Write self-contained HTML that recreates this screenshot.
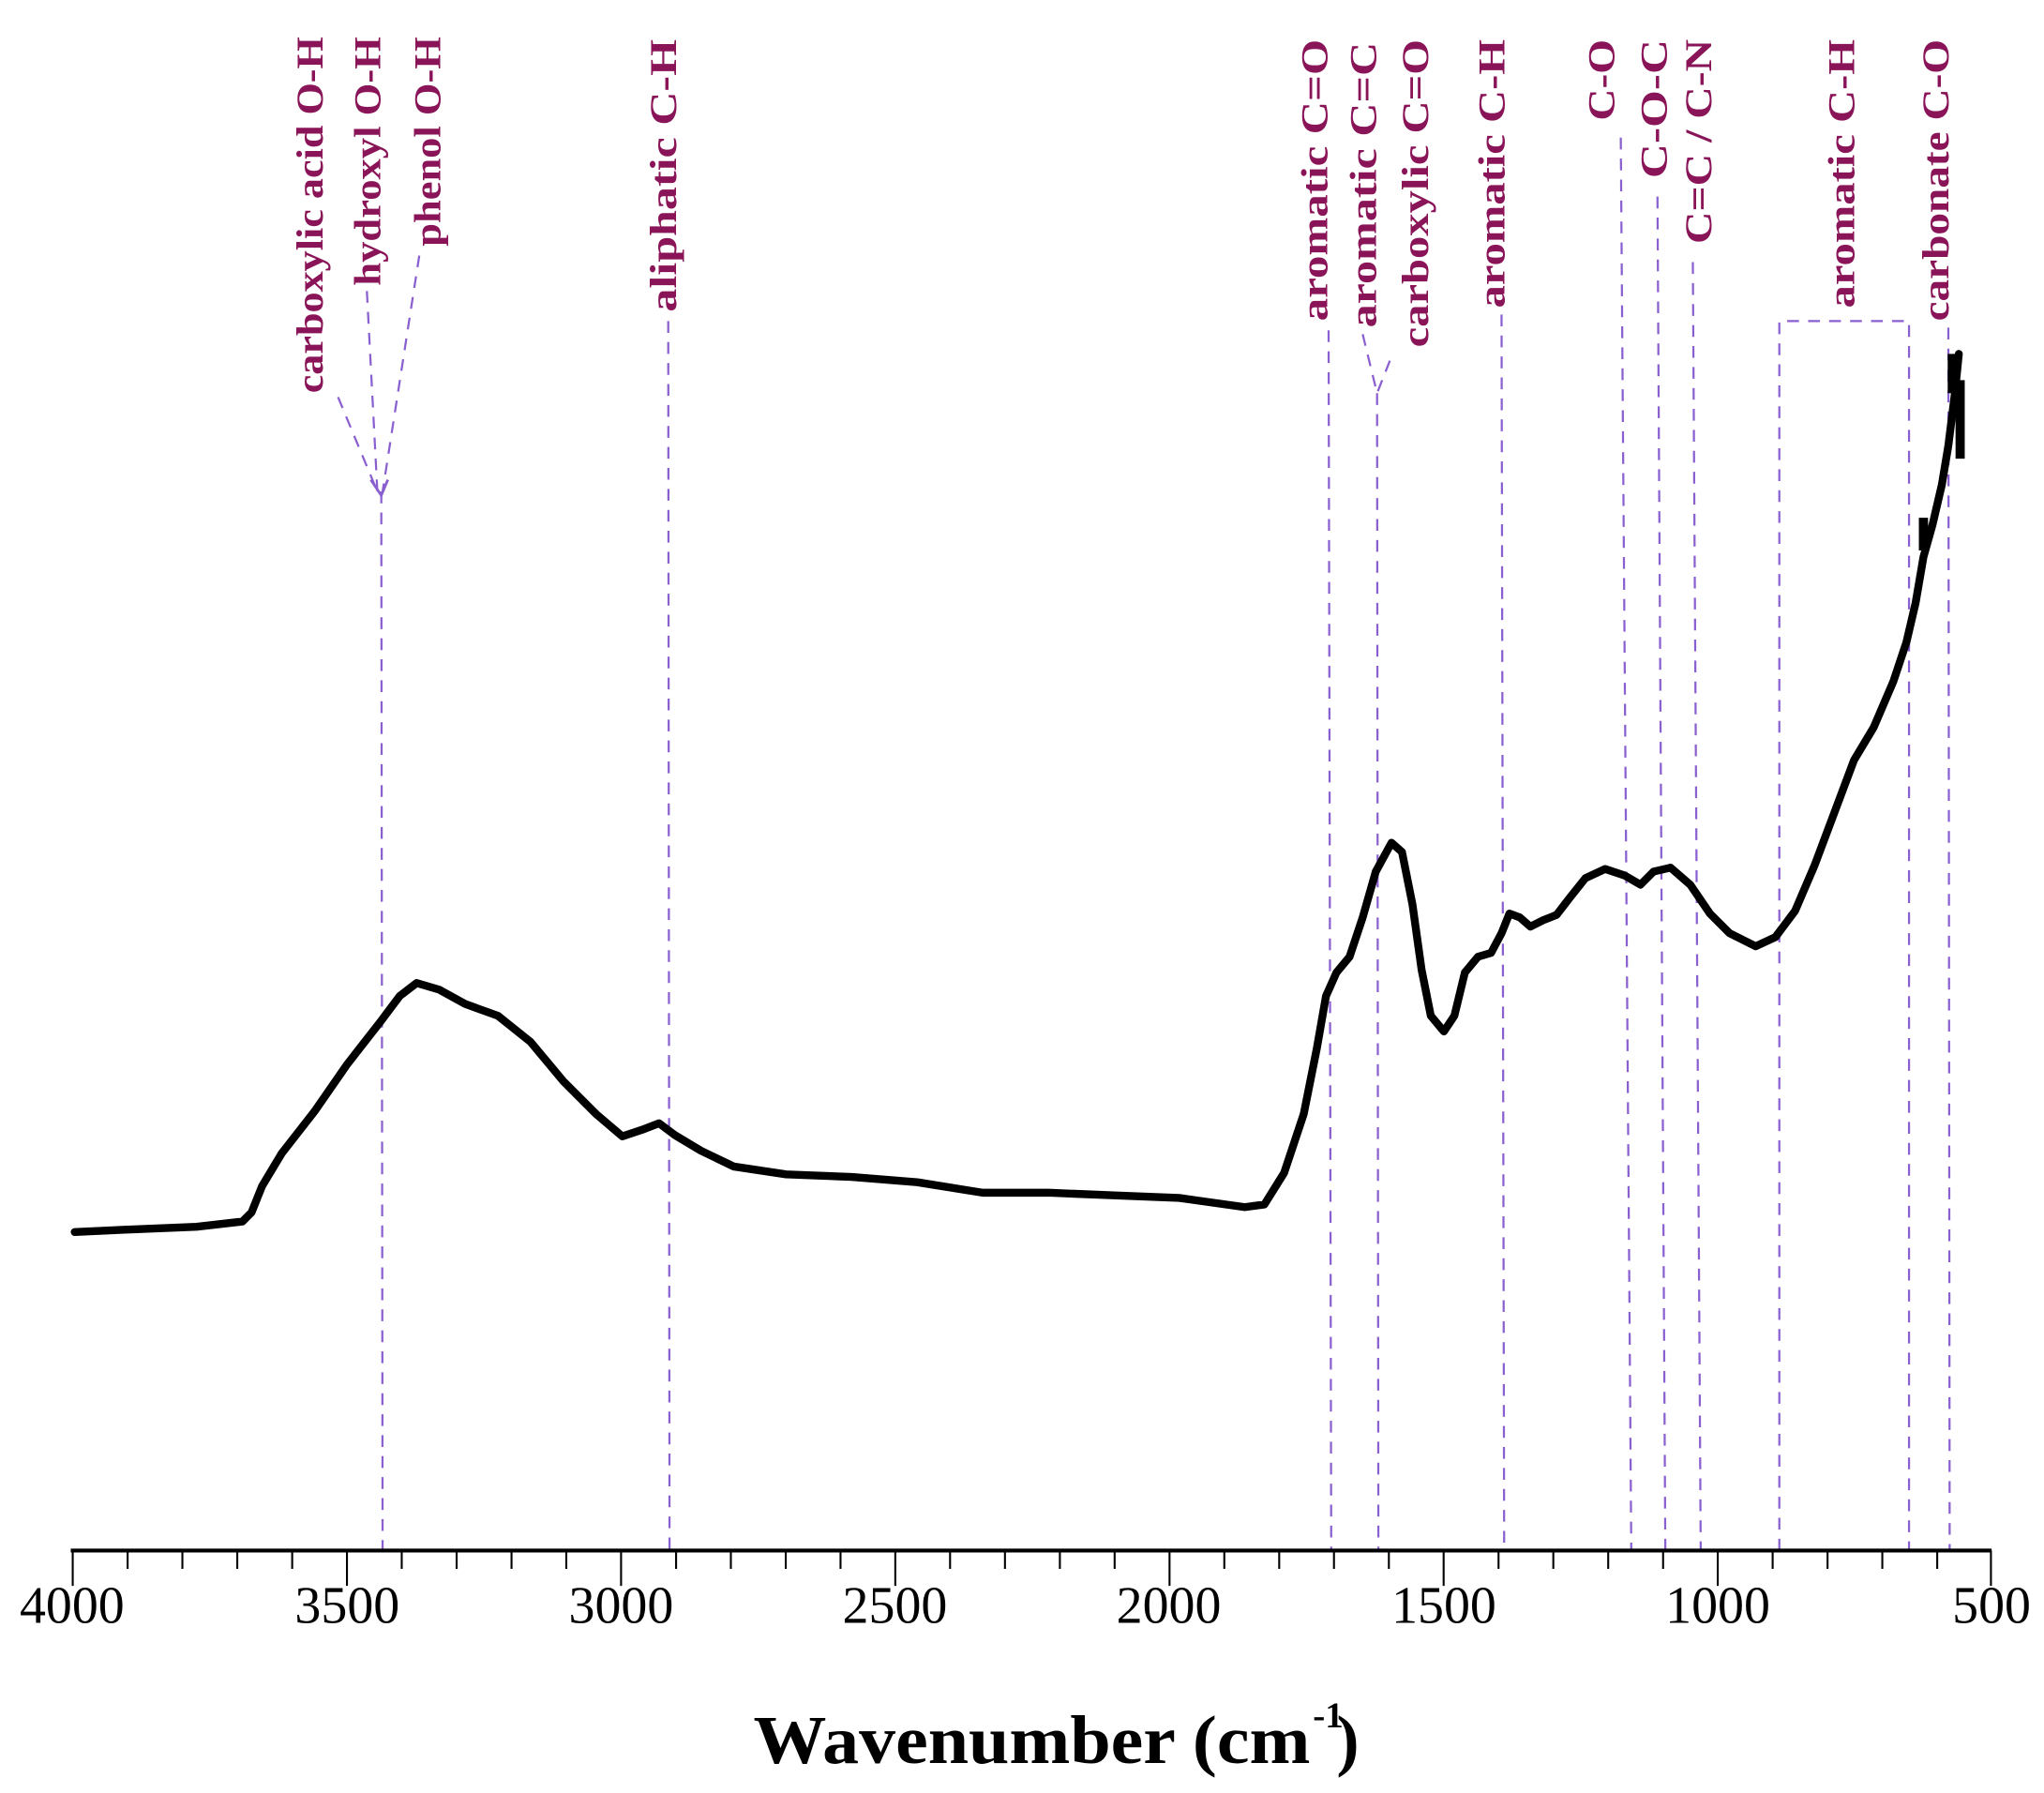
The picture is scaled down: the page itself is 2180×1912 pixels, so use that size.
<!DOCTYPE html>
<html><head><meta charset="utf-8"><style>
html,body{margin:0;padding:0;background:#fff;}
svg{display:block;}
.lb{font-family:"Liberation Serif",serif;font-weight:bold;font-size:29px;fill:#8a1458;}
.tk{font-family:"Liberation Serif",serif;font-size:40px;fill:#000;}
.dl{stroke:#8a5fd0;stroke-width:1.6;stroke-dasharray:9,7;fill:none;}
</style></head><body>
<svg width="2180" height="1912" viewBox="0 0 1560 1368" preserveAspectRatio="none" xmlns="http://www.w3.org/2000/svg">
<rect width="1560" height="1368" fill="#fff"/>
<!-- labels -->
<g class="lb">
<text transform="translate(246,300) rotate(-90)" textLength="272" lengthAdjust="spacingAndGlyphs">carboxylic acid O-H</text>
<text transform="translate(290,218) rotate(-90)" textLength="190" lengthAdjust="spacingAndGlyphs">hydroxyl O-H</text>
<text transform="translate(336,188) rotate(-90)" textLength="160" lengthAdjust="spacingAndGlyphs">phenol O-H</text>
<text transform="translate(516,238) rotate(-90)" textLength="208" lengthAdjust="spacingAndGlyphs">aliphatic C-H</text>
<text transform="translate(1013,245) rotate(-90)" textLength="215" lengthAdjust="spacingAndGlyphs">aromatic C=O</text>
<text transform="translate(1050,250) rotate(-90)" textLength="218" lengthAdjust="spacingAndGlyphs">aromatic C=C</text>
<text transform="translate(1090,265) rotate(-90)" textLength="235" lengthAdjust="spacingAndGlyphs">carboxylic C=O</text>
<text transform="translate(1148,235) rotate(-90)" textLength="205" lengthAdjust="spacingAndGlyphs">aromatic C-H</text>
<text transform="translate(1232,92) rotate(-90)" textLength="62" lengthAdjust="spacingAndGlyphs">C-O</text>
<text transform="translate(1272,136) rotate(-90)" textLength="106" lengthAdjust="spacingAndGlyphs">C-O-C</text>
<text transform="translate(1306,186) rotate(-90)" textLength="156" lengthAdjust="spacingAndGlyphs">C=C / C-N</text>
<text transform="translate(1415,235) rotate(-90)" textLength="205" lengthAdjust="spacingAndGlyphs">aromatic C-H</text>
<text transform="translate(1487,245) rotate(-90)" textLength="215" lengthAdjust="spacingAndGlyphs">carbonate C-O</text>
</g>
<!-- dashed lines -->
<g class="dl">
<path d="M258,303 L288,375"/>
<path d="M280,222 L288,375"/>
<path d="M320,195 L292,375"/>
<path d="M291,375 L292,1183"/>
<path d="M510,245 L511,1183"/>
<path d="M1014,252 L1016,1183"/>
<path d="M1040,255 L1051,300 L1062,272"/>
<path d="M1051,300 L1052,1183"/>
<path d="M1146,240 L1148,1183"/>
<path d="M1237,105 L1245,1183"/>
<path d="M1265,150 L1271,1183"/>
<path d="M1292,200 L1298,1183"/>
<path d="M1358,1183 L1358,245 L1457,245 L1457,1183"/>
<path d="M1487,250 L1488,1183"/>
</g>
<path d="M283,366 L291,378 L296,366" stroke="#8a5fd0" stroke-width="2" fill="none"/>
<!-- curve -->
<path fill="none" stroke="#000" stroke-width="6" stroke-linejoin="round" stroke-linecap="round" d="
M57,940 L100,938 L150,936 L185,932 L192,925 L200,905 L215,880 L240,848 L265,812 L290,780 L305,760 L318,750 L335,755 L355,766 L380,775 L405,795 L430,825 L455,850 L475,867 L490,862 L503,857 L515,866 L535,878 L560,890 L600,896 L650,898 L700,902 L750,910 L800,910 L850,912 L900,914 L950,921 L965,919 L980,895 L995,850 L1005,800 L1012,760 L1020,742 L1030,730 L1040,700 L1050,665 L1062,643 L1070,650 L1078,690 L1085,740 L1092,775 L1102,787 L1110,775 L1118,742 L1128,730 L1138,727 L1146,712 L1152,697 L1160,700 L1168,707 L1178,702 L1188,698 L1198,685 L1210,670 L1225,663 L1240,668 L1252,675 L1262,665 L1275,662 L1290,675 L1305,697 L1320,712 L1340,722 L1355,715 L1370,695 L1385,660 L1400,620 L1415,580 L1430,555 L1445,520 L1455,490 L1462,460 L1468,425 L1475,400 L1482,370 L1487,340 L1492,300 L1495,270"/>
<path d="M1468,420 L1468,395 M1490,300 L1490,270 M1496,290 L1496,350" stroke="#000" stroke-width="7"/>
<!-- axis -->
<line x1="54" y1="1183" x2="1520" y2="1183" stroke="#000" stroke-width="3"/>
<g stroke="#000" stroke-width="1.5">
<path d="M55.5,1183v27 M264.8,1183v27 M474,1183v27 M683.3,1183v27 M892.6,1183v27 M1101.8,1183v27 M1311,1183v27 M1519.5,1183v27"/>
<path d="M97.4,1183v14 M139.2,1183v14 M181.1,1183v14 M223,1183v14 M306.6,1183v14 M348.5,1183v14 M390.4,1183v14 M432.2,1183v14 M516,1183v14 M557.8,1183v14 M599.7,1183v14 M641.5,1183v14 M725.1,1183v14 M767,1183v14 M808.9,1183v14 M850.7,1183v14 M934.4,1183v14 M976.3,1183v14 M1018.1,1183v14 M1060,1183v14 M1143.7,1183v14 M1185.5,1183v14 M1227.4,1183v14 M1269.3,1183v14 M1352.9,1183v14 M1394.8,1183v14 M1436.6,1183v14 M1478.5,1183v14"/>
</g>
<g class="tk" text-anchor="middle">
<text x="55" y="1238">4000</text>
<text x="265" y="1238">3500</text>
<text x="474" y="1238">3000</text>
<text x="683" y="1238">2500</text>
<text x="892" y="1238">2000</text>
<text x="1102" y="1238">1500</text>
<text x="1311" y="1238">1000</text>
<text x="1520" y="1238">500</text>
</g>
<text x="575" y="1345" font-family="Liberation Serif,serif" font-weight="bold" font-size="52" textLength="425" lengthAdjust="spacingAndGlyphs">Wavenumber (cm</text>
<text x="1002" y="1318" font-family="Liberation Serif,serif" font-weight="bold" font-size="28">-1</text>
<text x="1020" y="1345" font-family="Liberation Serif,serif" font-weight="bold" font-size="52">)</text>
</svg>
</body></html>
